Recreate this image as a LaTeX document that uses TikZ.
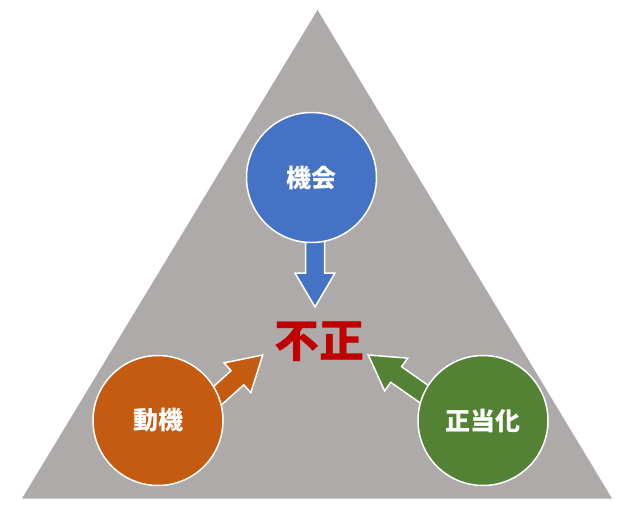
\documentclass[tikz,border=0pt]{standalone}
\usepackage{fontspec}
\newfontfamily\jp{Noto Sans CJK JP}
\usetikzlibrary{calc}
\pgfdeclarelayer{back}
\pgfdeclarelayer{mid}
\pgfsetlayers{back,mid,main}
\definecolor{trigray}{HTML}{AEAAAA}
\definecolor{cblue}{HTML}{4472C4}
\definecolor{corange}{HTML}{C55A11}
\definecolor{cgreen}{HTML}{548235}
\definecolor{cred}{HTML}{C00000}
\tikzset{
  bubble/.style={circle, draw=white, line width=1.5pt, minimum size=130pt, inner sep=0pt,
    text=white, font=\jp\bfseries\fontsize{25}{25}\selectfont},
  blockarrow/.style={draw=white, line width=1.5pt, line join=miter},
  centerlabel/.style={text=cred, font=\jp\bfseries\fontsize{45}{45}\selectfont, inner sep=0pt}
}
% #1 start coordinate, #2 tip coordinate, #3 fill colour
\newcommand\blockarrowpath[3]{%
  \fill[blockarrow, fill=#3]
    ($(#1)!9.5pt!90:(#2)$) --
    ($($(#2)!34pt!(#1)$)!9.5pt!90:(#2)$) --
    ($($(#2)!34pt!(#1)$)!20pt!90:(#2)$) --
    (#2) --
    ($($(#2)!34pt!(#1)$)!20pt!-90:(#2)$) --
    ($($(#2)!34pt!(#1)$)!9.5pt!-90:(#2)$) --
    ($(#1)!9.5pt!-90:(#2)$) -- cycle;}
\begin{document}
\begin{tikzpicture}[x=1pt,y=-1pt]
  \useasboundingbox (0,0) rectangle (625,522);
  \begin{pgfonlayer}{back}
    \fill[white] (0,0) rectangle (625,522);
    \fill[trigray] (317.5,10) coordinate (apex) -- (612,498.5) coordinate (br) -- (22,498.5) coordinate (bl) -- cycle;
  \end{pgfonlayer}

  \node[bubble, fill=cblue] (kikai) at (311.5,177.5) {機会};
  \node[bubble, fill=corange] (doki) at (158,420.5) {動機};
  \node[bubble, fill=cgreen] (seito) at (483,420.5) {正当化};
  \node[centerlabel] (fusei) at (319,341.5) {不正};

  \coordinate (sb) at (315,230);
  \coordinate (tb) at (315,307);
  \coordinate (so) at (203.3,408.5);
  \coordinate (to) at (262.7,355);
  \coordinate (sg) at (433.8,400.9);
  \coordinate (tg) at (368.3,355);

  \begin{pgfonlayer}{mid}
    \blockarrowpath{sb}{tb}{cblue}
    \blockarrowpath{so}{to}{corange}
    \blockarrowpath{sg}{tg}{cgreen}
  \end{pgfonlayer}
\end{tikzpicture}
\end{document}
